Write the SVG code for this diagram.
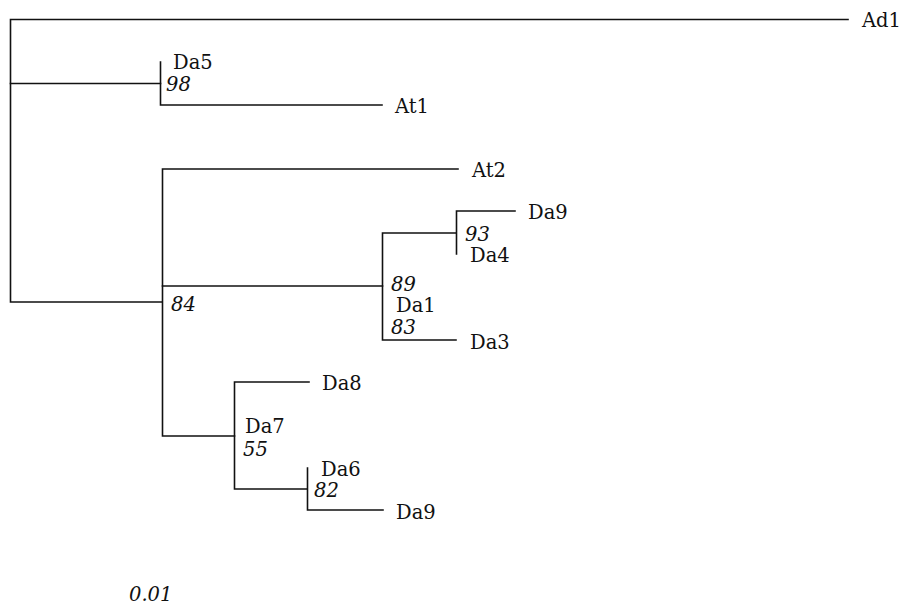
<svg xmlns="http://www.w3.org/2000/svg" width="901" height="609" viewBox="0 0 901 609">
<style>
.br{fill:none;stroke:#111;stroke-width:1.6;stroke-linecap:square}
.lb{font-family:"DejaVu Serif","Liberation Serif",serif;font-size:19.5px;fill:#111}
.bs{font-family:"DejaVu Serif","Liberation Serif",serif;font-size:19.5px;font-style:italic;fill:#111}
</style>
<rect width="901" height="609" fill="#fff"/>
<g id="connectors">
<path class="br" d="M848 19.5H10.5V302H162"/>
<path class="br" d="M10.5 83.5H160.5"/>
<path class="br" d="M160.5 62V105H382"/>
<path class="br" d="M458 169H162.5V436H234.5"/>
<path class="br" d="M162.5 286H382.5"/>
<path class="br" d="M456 233H382.5V340H456"/>
<path class="br" d="M515 211H456.5V254"/>
<path class="br" d="M309 382H234.5V489H307"/>
<path class="br" d="M307.5 468V510H383"/>
</g>
<g id="Ad1"><text class="lb" x="862" y="27">Ad1</text></g>
<g id="Da5"><text class="lb" x="173" y="69">Da5</text></g>
<g id="n98"><text class="bs" x="166" y="91">98</text></g>
<g id="At1"><text class="lb" x="395" y="113">At1</text></g>
<g id="At2"><text class="lb" x="472" y="177">At2</text></g>
<g id="n84"><text class="bs" x="171" y="311">84</text></g>
<g id="Da9a"><text class="lb" x="528" y="219">Da9</text></g>
<g id="n93"><text class="bs" x="465" y="241">93</text></g>
<g id="Da4"><text class="lb" x="470" y="262">Da4</text></g>
<g id="n89"><text class="bs" x="391" y="291">89</text></g>
<g id="Da1"><text class="lb" x="396" y="312">Da1</text></g>
<g id="n83"><text class="bs" x="391" y="334">83</text></g>
<g id="Da3"><text class="lb" x="470" y="349">Da3</text></g>
<g id="Da8"><text class="lb" x="322" y="390">Da8</text></g>
<g id="Da7"><text class="lb" x="245" y="433">Da7</text></g>
<g id="n55"><text class="bs" x="243" y="456">55</text></g>
<g id="Da6"><text class="lb" x="321" y="476">Da6</text></g>
<g id="n82"><text class="bs" x="314" y="497">82</text></g>
<g id="Da9b"><text class="lb" x="396" y="519">Da9</text></g>
<g id="scale"><text class="bs" x="129" y="601">0.01</text></g>
</svg>
